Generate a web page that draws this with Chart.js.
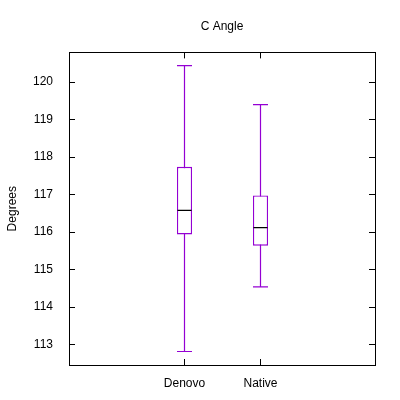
<!DOCTYPE html>
<html>
<head>
<meta charset="utf-8">
<script src="https://cdn.jsdelivr.net/npm/chart.js@4"></script>
<style>
  body { margin: 0; background: #fff; }
</style>
</head>
<body>
<canvas id="chart" width="400" height="400"></canvas>
<script>
// box plot data
const categories = ['Denovo', 'Native'];
const positions = [1, 2];
const mins = [112.81, 114.53];
const q1s = [115.93, 115.63];
const medians = [116.57, 116.11];
const q3s = [117.73, 116.97];
const maxs = [120.43, 119.39];
const yTicks = [113, 114, 115, 116, 117, 118, 119, 120];

const purple = '#9400d3';
const font = { family: 'Liberation Sans, Arial, sans-serif', size: 12 };

// frame + inward ticks on all four sides, like gnuplot
const frame = {
    id: 'frame',
    afterLayout(chart){
        // center the title over the plot box, not the canvas
        let t = chart.titleBlock;
        t.left = chart.chartArea.left;
        t.right = chart.chartArea.right;
    },
    afterDraw(chart){
        let ctx = chart.ctx, a = chart.chartArea;
        let x = chart.scales.x, y = chart.scales.y;
        ctx.save();
        ctx.strokeStyle = '#000';
        ctx.lineWidth = 1;
        ctx.strokeRect(Math.round(a.left) + 0.5, Math.round(a.top) + 0.5,
            Math.round(a.right - a.left), Math.round(a.bottom - a.top));
        ctx.beginPath();
        y.ticks.forEach(t => {
            let py = Math.round(y.getPixelForValue(t.value)) + 0.5;
            ctx.moveTo(a.left, py); ctx.lineTo(a.left + 6, py);
            ctx.moveTo(a.right, py); ctx.lineTo(a.right - 6, py);
        });
        x.ticks.forEach(t => {
            let px = Math.floor(x.getPixelForValue(t.value)) + 0.5;
            ctx.moveTo(px, a.bottom); ctx.lineTo(px, a.bottom - 6);
            ctx.moveTo(px, a.top); ctx.lineTo(px, a.top + 6);
        });
        ctx.stroke();
        ctx.restore();
    }
};

new Chart(document.getElementById('chart'), {
    type: 'bar',
    data: {
        datasets: [
            {
                type: 'scatter',
                data: positions.map((x, i) => ({ x: x, y: medians[i] })),
                pointStyle: 'line',
                radius: 7,
                borderColor: '#000',
                borderWidth: 1.2,
                order: 0
            },
            {
                type: 'scatter',
                data: positions.map((x, i) => ({ x: x, y: mins[i] }))
                    .concat(positions.map((x, i) => ({ x: x, y: maxs[i] }))),
                pointStyle: 'line',
                radius: 7.5,
                borderColor: purple,
                borderWidth: 1.2,
                order: 0
            },
            {
                data: positions.map((x, i) => ({ x: x, y: [q1s[i], q3s[i]] })),
                backgroundColor: '#fff',
                borderColor: purple,
                borderWidth: 1.3,
                borderSkipped: false,
                inflateAmount: 0,
                barThickness: 15,
                grouped: false,
                order: 1
            },
            {
                data: positions.map((x, i) => ({ x: x, y: [mins[i], maxs[i]] })),
                backgroundColor: purple,
                borderWidth: 0,
                inflateAmount: 0,
                barThickness: 1.2,
                grouped: false,
                order: 2
            }
        ]
    },
    options: {
        responsive: false,
        animation: false,
        events: [],
        layout: { padding: { left: 0, right: 25, top: 0, bottom: 0 } },
        plugins: {
            legend: { display: false },
            tooltip: { enabled: false },
            title: {
                display: true,
                text: 'C Angle',
                color: '#000',
                font: { ...font, weight: 'normal' },
                padding: { top: 19, bottom: 19 }
            }
        },
        scales: {
            x: {
                type: 'linear',
                min: -0.5197,
                max: 3.5066,
                offset: false,
                grid: { display: false, drawTicks: false },
                border: { display: false },
                afterBuildTicks: s => { s.ticks = positions.map(v => ({ value: v })); },
                afterFit: s => { s.height = 35; },
                ticks: {
                    color: '#000',
                    font: font,
                    padding: 11,
                    maxRotation: 0,
                    callback: v => categories[positions.indexOf(v)]
                }
            },
            y: {
                min: 112.45,
                max: 120.78,
                grid: { display: false, drawTicks: false },
                border: { display: false },
                afterBuildTicks: s => { s.ticks = yTicks.map(v => ({ value: v })); },
                afterFit: s => { s.width = 69; },
                title: {
                    display: true,
                    text: 'Degrees',
                    color: '#000',
                    font: font,
                    padding: { top: 5, bottom: 0 }
                },
                ticks: {
                    color: '#000',
                    font: font,
                    padding: 16
                }
            }
        }
    },
    plugins: [frame]
});
</script>
</body>
</html>
